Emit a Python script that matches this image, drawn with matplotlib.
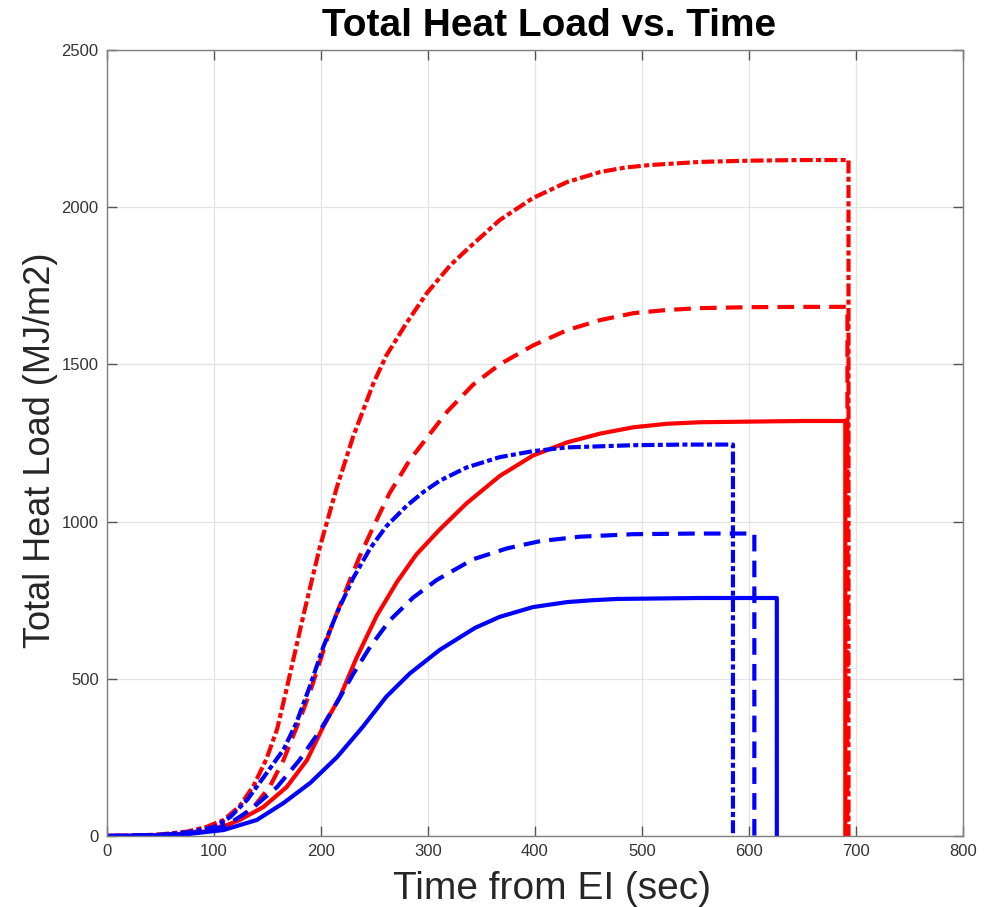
import matplotlib
matplotlib.use("Agg")
import matplotlib.pyplot as plt

# Red, dash-dot (highest)
RDD_T = [0, 25, 50, 75, 93, 109, 124, 137, 149, 159, 168, 184, 199, 215, 230, 249, 261, 280, 299,
         321, 336, 367, 398, 430, 461, 484, 507, 554, 600, 650, 693, 693]
RDD_Y = [0, 1, 5, 14, 29, 51, 95, 160, 245, 340, 470, 708, 920, 1111, 1270, 1440, 1528, 1632, 1727,
         1816, 1864, 1959, 2029, 2080, 2112, 2126, 2134, 2144, 2148, 2150, 2150, 0]

# Red, dashed
RD_T = [0, 25, 50, 75, 100, 121, 137, 152, 165, 180, 190, 208, 227, 236, 249, 264, 283, 302, 318,
        342, 367, 398, 430, 461, 492, 523, 554, 600, 650, 692, 692]
RD_Y = [0, 1, 4, 10, 22, 51, 92, 156, 242, 369, 460, 650, 814, 888, 984, 1090, 1196, 1280, 1350,
        1435, 1500, 1560, 1609, 1641, 1663, 1673, 1679, 1682, 1683, 1683, 0]

# Red, solid
RS_T = [0, 25, 50, 75, 100, 124, 146, 168, 187, 202, 218, 233, 252, 271, 289, 311, 336, 367, 398,
        430, 461, 492, 523, 554, 600, 650, 690, 690]
RS_Y = [0, 1, 3, 8, 18, 51, 92, 156, 242, 347, 445, 565, 700, 808, 895, 975, 1058, 1145, 1210,
        1252, 1280, 1300, 1311, 1316, 1318, 1320, 1320, 0]

# Blue, dash-dot
BDD_T = [0, 25, 50, 75, 100, 115, 131, 146, 165, 177, 190, 202, 215, 230, 246, 261, 280, 296, 311,
         336, 367, 398, 430, 492, 540, 585, 585]
BDD_Y = [0, 1, 4, 12, 28, 60, 115, 185, 275, 360, 480, 600, 710, 820, 915, 985, 1050, 1095, 1130,
         1172, 1205, 1224, 1236, 1243, 1245, 1245, 0]

# Blue, dashed
BD_T = [0, 25, 50, 75, 100, 115, 134, 159, 180, 199, 215, 230, 246, 264, 286, 308, 342, 374, 405,
        442, 492, 550, 605, 605]
BD_Y = [0, 1, 3, 8, 18, 41, 83, 156, 242, 335, 425, 515, 602, 685, 758, 814, 880, 915, 938,
        952, 960, 962, 962, 0]

# Blue, solid
BS_T = [0, 25, 50, 75, 109, 140, 165, 190, 215, 239, 261, 283, 311, 344, 367, 398, 430, 454, 477,
        554, 626, 626]
BS_Y = [0, 1, 2, 6, 19, 51, 105, 169, 251, 347, 443, 517, 592, 662, 697, 728, 744, 750, 754,
        757, 757, 0]

X_TICKS = [0, 100, 200, 300, 400, 500, 600, 700, 800]
Y_TICKS = [0, 500, 1000, 1500, 2000, 2500]

plt.rcParams['font.family'] = ['Liberation Sans', 'DejaVu Sans']

W, H = 995, 907
fig = plt.figure(figsize=(W / 100, H / 100), dpi=100)
ax = fig.add_axes([107 / W, 1 - 836 / H, (963 - 107) / W, (836 - 50) / H])

LW = 3.0
DASH = (4.0, 2.2)
DASHDOT = (3.1, 0.8, 1.2, 0.8)

ax.plot(RS_T, RS_Y, color='#ff0000', lw=LW, solid_joinstyle='round')
ax.plot(RD_T, RD_Y, color='#ff0000', lw=LW, dashes=DASH)
ax.plot(RDD_T, RDD_Y, color='#ff0000', lw=LW, dashes=DASHDOT)
ax.plot(BS_T, BS_Y, color='#0000ff', lw=LW, solid_joinstyle='round')
ax.plot(BD_T, BD_Y, color='#0000ff', lw=LW, dashes=DASH)
ax.plot(BDD_T, BDD_Y, color='#0000ff', lw=LW, dashes=DASHDOT)

ax.set_xlim(0, 800)
ax.set_ylim(0, 2500)
ax.set_xticks(X_TICKS)
ax.set_yticks(Y_TICKS)
ax.grid(True, color='#e3e3e3', lw=0.9)
ax.set_axisbelow(True)

for s in ax.spines.values():
    s.set_color('#7f7f7f')
    s.set_linewidth(1.0)
ax.tick_params(direction='in', length=7, width=1.0, color='#555555',
               top=True, right=True, labelsize=12, labelcolor='#333333', pad=6)

fig.text(549 / W, 1 - 36 / H, 'Total Heat Load vs. Time', ha='center', va='baseline',
         fontsize=28, fontweight='bold', color='black')
fig.text(552 / W, 1 - 899 / H, 'Time from EI (sec)', ha='center', va='baseline',
         fontsize=28, color='#262626')
fig.text(41 / W, 1 - 450 / H, 'Total Heat Load (MJ/m2)', ha='center', va='center',
         rotation=90, fontsize=26, color='#262626')

fig.savefig('out.png', dpi=100)
